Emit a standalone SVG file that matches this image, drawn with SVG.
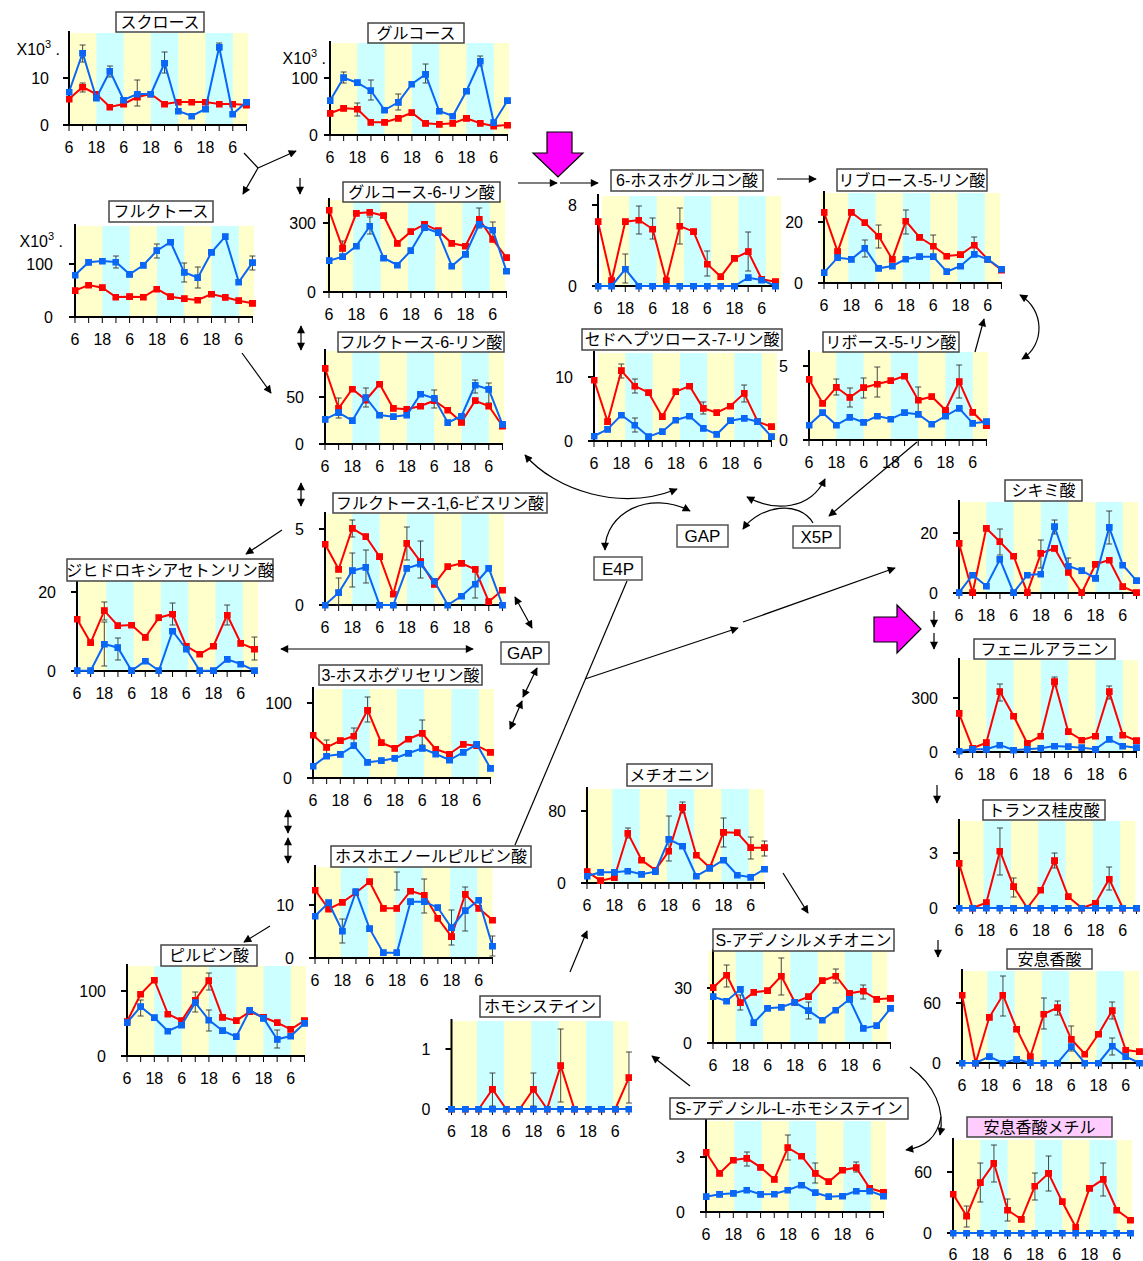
<svg xmlns="http://www.w3.org/2000/svg" xmlns:xlink="http://www.w3.org/1999/xlink" width="1143" height="1261" viewBox="0 0 1143 1261">
<style>
text{font-family:"Liberation Sans","Noto Sans CJK JP",sans-serif;font-size:16px;fill:#000}
.t{text-anchor:middle}
.yl{text-anchor:end}
.tb{fill:#fff;stroke:#444;stroke-width:1.5}
.tp{fill:#ffccff;stroke:#444;stroke-width:1.5}
.ax{fill:none;stroke:#000;stroke-width:2}
.xt{stroke:#000;stroke-width:6;stroke-dasharray:1 12.65}
.eb{fill:none;stroke:#333;stroke-width:0.9}
.r{fill:none;stroke:#f00;stroke-width:2;marker-start:url(#mr);marker-mid:url(#mr);marker-end:url(#mr)}
.b{fill:none;stroke:#0a66f5;stroke-width:2;marker-start:url(#mb);marker-mid:url(#mb);marker-end:url(#mb)}
.cn{fill:none;stroke:#000;stroke-width:1.2}
.ae{marker-end:url(#ah)}
.ad{marker-start:url(#ah);marker-end:url(#ah)}
.nb{fill:#fff;stroke:#555;stroke-width:1.5}
.mg{fill:#f0f;stroke:#000;stroke-width:1.2}
.nt{font-size:17px;text-anchor:middle}
</style>
<defs>
<marker id="mr" markerWidth="7" markerHeight="7" refX="3.5" refY="3.5" markerUnits="userSpaceOnUse"><rect width="7" height="7" fill="#f00"/></marker>
<marker id="mb" markerWidth="7" markerHeight="7" refX="3.5" refY="3.5" markerUnits="userSpaceOnUse"><rect width="7" height="7" fill="#0a66f5"/></marker>
<marker id="ah" viewBox="0 0 10 10" refX="9" refY="5" markerWidth="11" markerHeight="8" markerUnits="userSpaceOnUse" orient="auto-start-reverse"><path d="M0,0L10,5L0,10z"/></marker>
<g id="bg"><rect width="179" height="1" fill="#ffffcc"/><rect x="27.3" width="27.3" height="1" fill="#ccffff"/><rect x="81.9" width="27.3" height="1" fill="#ccffff"/><rect x="136.5" width="27.3" height="1" fill="#ccffff"/></g>
<line id="xt" class="xt" x1="-0.5" y1="3" x2="178" y2="3"/>
<g id="xl" class="t"><text x="0">6</text><text x="27.3">18</text><text x="54.6">6</text><text x="81.9">18</text><text x="109.2">6</text><text x="136.5">18</text><text x="163.8">6</text></g>
</defs>
<rect width="1143" height="1261" fill="#fff"/>

<g id="sucrose" transform="translate(69,0)">
<use href="#bg" transform="translate(0,33) scale(1,92)"/>
<path class="ax" d="M0,31V125M-6,125H178M-6,78H0"/>
<use href="#xt" y="125"/><use href="#xl" y="153"/>
<text class="yl" x="-20" y="84">10</text><text class="yl" x="-20" y="131">0</text>
<text class="yl" x="-9" y="55">X10<tspan dy="-7" font-size="11">3</tspan><tspan dy="7"> .</tspan></text>
<path class="eb" d="M13.65,45V62M10.65,45h6M10.65,62h6M40.95,66V77M37.95,66h6M37.95,77h6M95.55,52V73M92.55,52h6M92.55,73h6M150.15,43V50M147.15,43h6M147.15,50h6M68.25,80V106M65.25,80h6M65.25,106h6M13.65,83V92M10.65,83h6M10.65,92h6"/>
<polyline class="r" points="0,99 13.65,87 27.3,94 40.95,107 54.6,104 68.25,97 81.9,94 95.55,104 109.2,102 122.85,102 136.5,102 150.15,104 163.8,104 177.45,105"/>
<polyline class="b" points="0,92 13.65,53 27.3,98 40.95,71 54.6,100 68.25,94 81.9,94 95.55,63 109.2,111 122.85,116 136.5,109 150.15,47 163.8,114 177.45,102"/>
<rect class="tb" x="47" y="12" width="88" height="20"/><text class="t" x="91" y="28">スクロース</text>
</g>

<g id="glucose" transform="translate(330,0)">
<use href="#bg" transform="translate(0,43) scale(1,92)"/>
<path class="ax" d="M0,41V135M-6,135H178M-6,78H0"/>
<use href="#xt" y="135"/><use href="#xl" y="163"/>
<text class="yl" x="-12" y="84">100</text><text class="yl" x="-12" y="141">0</text>
<text class="yl" x="-4" y="64">X10<tspan dy="-7" font-size="11">3</tspan><tspan dy="7"> .</tspan></text>
<path class="eb" d="M13.65,72V83M10.65,72h6M10.65,83h6M40.95,80V100M37.95,80h6M37.95,100h6M95.55,64V83M92.55,64h6M92.55,83h6M150.15,56V66M147.15,56h6M147.15,66h6M68.25,94V110M65.25,94h6M65.25,110h6M27.3,103V116M24.3,103h6M24.3,116h6"/>
<polyline class="r" points="0,113.3 13.65,108.3 27.3,109 40.95,122.3 54.6,122.3 68.25,118.3 81.9,112.7 95.55,123.3 109.2,124.3 122.85,123.3 136.5,118.3 150.15,123.3 163.8,126 177.45,125"/>
<polyline class="b" points="0,100.7 13.65,77.7 27.3,82.7 40.95,90.7 54.6,110 68.25,102.3 81.9,84 95.55,74.3 109.2,111 122.85,116 136.5,91 150.15,61 163.8,122.7 177.45,100.7"/>
<rect class="tb" x="38" y="23" width="96" height="20"/><text class="t" x="86" y="39">グルコース</text>
</g>

<g id="g6p" transform="translate(329,0)">
<use href="#bg" transform="translate(-3,200) scale(1,92)"/>
<path class="ax" d="M0,198V292M-6,292H178M-6,223H0"/>
<use href="#xt" y="292"/><use href="#xl" y="320"/>
<text class="yl" x="-13" y="229">300</text><text class="yl" x="-13" y="298">0</text>
<path class="eb" d="M40.95,217V234M37.95,217h6M37.95,234h6M150.15,208V228M147.15,208h6M147.15,228h6M163.8,222V238M160.8,222h6M160.8,238h6M13.65,241V256M10.65,241h6M10.65,256h6"/>
<polyline class="r" points="0,210 13.65,248.3 27.3,213.3 40.95,212.3 54.6,215.7 68.25,243.3 81.9,231.7 95.55,224.3 109.2,230.7 122.85,243.3 136.5,246 150.15,219 163.8,239.3 177.45,257.7"/>
<polyline class="b" points="0,260.7 13.65,256.7 27.3,246 40.95,226 54.6,258 68.25,265 81.9,250.7 95.55,227.7 109.2,232.7 122.85,266 136.5,254.3 150.15,224.3 163.8,230 177.45,271"/>
<rect class="tb" x="14" y="182" width="157" height="20"/><text class="t" x="92.5" y="198">グルコース-6-リン酸</text>
</g>

<g id="fructose" transform="translate(75,0)">
<use href="#bg" transform="translate(0,226) scale(1,91)"/>
<path class="ax" d="M0,224V317M-6,317H178M-6,264H0"/>
<use href="#xt" y="317"/><use href="#xl" y="345"/>
<text class="yl" x="-22" y="270">100</text><text class="yl" x="-22" y="323">0</text>
<text class="yl" x="-12" y="247">X10<tspan dy="-7" font-size="11">3</tspan><tspan dy="7"> .</tspan></text>
<path class="eb" d="M109.2,263V282M106.2,263h6M106.2,282h6M122.85,267V288M119.85,267h6M119.85,288h6M81.9,244V258M78.9,244h6M78.9,258h6M40.95,256V268M37.95,256h6M37.95,268h6M177.45,256V270M174.45,256h6M174.45,270h6"/>
<polyline class="r" points="0,290.7 13.65,285 27.3,287.7 40.95,297 54.6,296.7 68.25,297 81.9,289 95.55,296.7 109.2,298.7 122.85,300 136.5,294 150.15,297.3 163.8,300.7 177.45,303.3"/>
<polyline class="b" points="0,275 13.65,262.3 27.3,261 40.95,262 54.6,274.3 68.25,265.3 81.9,250.7 95.55,242 109.2,272.3 122.85,277.7 136.5,252.3 150.15,236.7 163.8,282 177.45,262.7"/>
<rect class="tb" x="34" y="201" width="104" height="21"/><text class="t" x="86" y="217">フルクトース</text>
</g>

<g id="f6p" transform="translate(325,0)">
<use href="#bg" transform="translate(0,351) scale(1,93)"/>
<path class="ax" d="M0,349V444M-6,444H178M-6,397H0"/>
<use href="#xt" y="444"/><use href="#xl" y="472"/>
<text class="yl" x="-21" y="403">50</text><text class="yl" x="-21" y="450">0</text>
<path class="eb" d="M40.95,388V407M37.95,388h6M37.95,407h6M150.15,380V393M147.15,380h6M147.15,393h6M163.8,383V403M160.8,383h6M160.8,403h6M13.65,398V418M10.65,398h6M10.65,418h6M109.2,390V408M106.2,390h6M106.2,408h6"/>
<polyline class="r" points="0,368.3 13.65,408.3 27.3,389 40.95,400 54.6,384 68.25,408.3 81.9,409.3 95.55,406 109.2,400.7 122.85,410 136.5,422.3 150.15,400.7 163.8,406 177.45,426"/>
<polyline class="b" points="0,419.3 13.65,412.7 27.3,420.7 40.95,397.7 54.6,415 68.25,416.7 81.9,415 95.55,394 109.2,398.3 122.85,422.7 136.5,416 150.15,385 163.8,389.3 177.45,424.3"/>
<rect class="tb" x="13" y="332" width="166" height="20"/><text class="t" x="96" y="348">フルクトース-6-リン酸</text>
</g>

<g id="f16bp" transform="translate(325,0)">
<use href="#bg" transform="translate(0,514) scale(1,91)"/>
<path class="ax" d="M0,512V605M-6,605H178M-6,529H0"/>
<use href="#xt" y="605"/><use href="#xl" y="633"/>
<text class="yl" x="-21" y="535">5</text><text class="yl" x="-21" y="611">0</text>
<path class="eb" d="M27.3,553V587M24.3,553h6M24.3,587h6M40.95,550V583M37.95,550h6M37.95,583h6M81.9,527V560M78.9,527h6M78.9,560h6M95.55,541V578M92.55,541h6M92.55,578h6M27.3,520V537M24.3,520h6M24.3,537h6M13.65,578V605M10.65,578h6M10.65,605h6M150.15,570V598M147.15,570h6M147.15,598h6"/>
<polyline class="r" points="0,544 13.65,569.3 27.3,528.3 40.95,536.7 54.6,556.7 68.25,594 81.9,543.3 95.55,561.7 109.2,584.3 122.85,566.7 136.5,563.3 150.15,569.3 163.8,601.7 177.45,590"/>
<polyline class="b" points="0,605 13.65,592.7 27.3,570.7 40.95,567.3 54.6,605 68.25,605 81.9,568.3 95.55,564 109.2,581 122.85,605 136.5,596 150.15,584 163.8,568.3 177.45,605"/>
<rect class="tb" x="8" y="493" width="214" height="20"/><text class="t" x="115" y="509">フルクトース-1,6-ビスリン酸</text>
</g>

<g id="pg6" transform="translate(598,0)">
<use href="#bg" transform="translate(4,196) scale(1,90)"/>
<path class="ax" d="M0,194V286M-6,286H178M-6,205H0"/>
<use href="#xt" y="286"/><use href="#xl" y="314"/>
<text class="yl" x="-21" y="211">8</text><text class="yl" x="-21" y="292">0</text>
<path class="eb" d="M40.95,206V234M37.95,206h6M37.95,234h6M81.9,208V244M78.9,208h6M78.9,244h6M150.15,232V271M147.15,232h6M147.15,271h6M27.3,254V283M24.3,254h6M24.3,283h6M109.2,251V276M106.2,251h6M106.2,276h6M54.6,218V239M51.6,218h6M51.6,239h6"/>
<polyline class="r" points="0,221.7 13.65,280.7 27.3,221.7 40.95,220 54.6,229 68.25,280.7 81.9,226 95.55,231.7 109.2,264 122.85,276.7 136.5,258.3 150.15,251.7 163.8,279.3 177.45,281.7"/>
<polyline class="b" points="0,286 13.65,286 27.3,269 40.95,286 54.6,286 68.25,286 81.9,286 95.55,286 109.2,286 122.85,286 136.5,286 150.15,277.7 163.8,280 177.45,286"/>
<rect class="tb" x="13" y="170" width="152" height="21"/><text class="t" x="89" y="186">6-ホスホグルコン酸</text>
</g>

<g id="ru5p" transform="translate(824,0)">
<use href="#bg" transform="translate(-3,193) scale(1,90)"/>
<path class="ax" d="M0,191V283M-6,283H178M-6,222H0"/>
<use href="#xt" y="283"/><use href="#xl" y="311"/>
<text class="yl" x="-21" y="228">20</text><text class="yl" x="-21" y="289">0</text>
<path class="eb" d="M81.9,210V234M78.9,210h6M78.9,234h6M54.6,225V248M51.6,225h6M51.6,248h6M40.95,240V257M37.95,240h6M37.95,257h6M109.2,235V258M106.2,235h6M106.2,258h6M150.15,237V253M147.15,237h6M147.15,253h6"/>
<polyline class="r" points="0,212.3 13.65,251.7 27.3,212.3 40.95,222.7 54.6,236 68.25,259.3 81.9,221 95.55,237.3 109.2,246 122.85,256 136.5,254.7 150.15,245 163.8,259.3 177.45,270"/>
<polyline class="b" points="0,272.7 13.65,257.7 27.3,259.3 40.95,248.3 54.6,268.3 68.25,266 81.9,259 95.55,256.7 109.2,256.7 122.85,271.7 136.5,266 150.15,254.3 163.8,259.3 177.45,269"/>
<rect class="tb" x="13" y="169" width="150" height="22"/><text class="t" x="88" y="186">リブロース-5-リン酸</text>
</g>

<g id="s7p" transform="translate(594,0)">
<use href="#bg" transform="translate(4,353) scale(1,88)"/>
<path class="ax" d="M0,351V441M-6,441H178M-6,377H0"/>
<use href="#xt" y="441"/><use href="#xl" y="469"/>
<text class="yl" x="-21" y="383">10</text><text class="yl" x="-21" y="447">0</text>
<path class="eb" d="M27.3,364V378M24.3,364h6M24.3,378h6M40.95,379V393M37.95,379h6M37.95,393h6M150.15,385V402M147.15,385h6M147.15,402h6M40.95,418V432M37.95,418h6M37.95,432h6M109.2,402V414M106.2,402h6M106.2,414h6"/>
<polyline class="r" points="0,380 13.65,421.7 27.3,370.7 40.95,386 54.6,392.7 68.25,416.7 81.9,391.7 95.55,386 109.2,408.3 122.85,412.7 136.5,406 150.15,393.3 163.8,421.7 177.45,426.7"/>
<polyline class="b" points="0,436 13.65,429.3 27.3,415 40.95,425 54.6,436.7 68.25,431.7 81.9,420 95.55,416 109.2,428.3 122.85,434.3 136.5,420.7 150.15,418.3 163.8,421.7 177.45,436.7"/>
<rect class="tb" x="-12" y="329" width="200" height="21"/><text class="t" x="88" y="345">セドヘプツロース-7-リン酸</text>
</g>

<g id="r5p" transform="translate(809,0)">
<use href="#bg" transform="translate(0,352) scale(1,88)"/>
<path class="ax" d="M0,350V440M-6,440H178M-6,366H0"/>
<use href="#xt" y="440"/><use href="#xl" y="468"/>
<text class="yl" x="-21" y="372">5</text><text class="yl" x="-21" y="446">0</text>
<path class="eb" d="M27.3,379V395M24.3,379h6M24.3,395h6M68.25,367V397M65.25,367h6M65.25,397h6M150.15,365V398M147.15,365h6M147.15,398h6M109.2,387V414M106.2,387h6M106.2,414h6M40.95,388V407M37.95,388h6M37.95,407h6M54.6,378V398M51.6,378h6M51.6,398h6"/>
<polyline class="r" points="0,379.3 13.65,403.3 27.3,387.3 40.95,397.3 54.6,387.7 68.25,384 81.9,380.7 95.55,376 109.2,400 122.85,396.7 136.5,410 150.15,381.7 163.8,412.3 177.45,425.7"/>
<polyline class="b" points="0,425 13.65,412.7 27.3,425 40.95,417.3 54.6,422.3 68.25,416 81.9,419 95.55,412.7 109.2,414.3 122.85,424 136.5,416 150.15,408.3 163.8,423.3 177.45,421.7"/>
<rect class="tb" x="14" y="332" width="136" height="20"/><text class="t" x="82" y="348">リボース-5-リン酸</text>
</g>

<g id="shikimate" transform="translate(959,0)">
<use href="#bg" transform="translate(0,502) scale(1,91)"/>
<path class="ax" d="M0,500V593M-6,593H178M-6,533H0"/>
<use href="#xt" y="593"/><use href="#xl" y="621"/>
<text class="yl" x="-21" y="539">20</text><text class="yl" x="-21" y="599">0</text>
<path class="eb" d="M40.95,529V555M37.95,529h6M37.95,555h6M150.15,511V544M147.15,511h6M147.15,544h6M95.55,520V534M92.55,520h6M92.55,534h6M81.9,540V568M78.9,540h6M78.9,568h6M109.2,558V574M106.2,558h6M106.2,574h6"/>
<polyline class="r" points="0,543.3 13.65,592.7 27.3,528.3 40.95,541.7 54.6,556 68.25,592.7 81.9,553.3 95.55,548.3 109.2,572.3 122.85,592.7 136.5,564.3 150.15,560 163.8,586.7 177.45,592.7"/>
<polyline class="b" points="0,592.7 13.65,575 27.3,586 40.95,559.3 54.6,592.7 68.25,575 81.9,574 95.55,526.7 109.2,566 122.85,570.7 136.5,578.3 150.15,527.3 163.8,565 177.45,580.7"/>
<rect class="tb" x="46" y="480" width="77" height="21"/><text class="t" x="84.5" y="496">シキミ酸</text>
</g>

<g id="phe" transform="translate(959,0)">
<use href="#bg" transform="translate(0,660) scale(1,92)"/>
<path class="ax" d="M0,658V752M-6,752H178M-6,698H0"/>
<use href="#xt" y="752"/><use href="#xl" y="780"/>
<text class="yl" x="-21" y="704">300</text><text class="yl" x="-21" y="758">0</text>
<path class="eb" d="M40.95,684V701M37.95,684h6M37.95,701h6M95.55,677V686M92.55,677h6M92.55,686h6M150.15,686V699M147.15,686h6M147.15,699h6"/>
<polyline class="r" points="0,713.3 13.65,748.3 27.3,742.7 40.95,691.7 54.6,716 68.25,743.3 81.9,736 95.55,681.7 109.2,731.7 122.85,740 136.5,736 150.15,691.7 163.8,735 177.45,740.7"/>
<polyline class="b" points="0,751 13.65,749.3 27.3,749.3 40.95,745 54.6,750 68.25,749.3 81.9,748.3 95.55,746 109.2,746.7 122.85,747.7 136.5,749.3 150.15,739.3 163.8,746 177.45,747.7"/>
<rect class="tb" x="15" y="639" width="141" height="20"/><text class="t" x="85.5" y="655">フェニルアラニン</text>
</g>

<g id="cinnamic" transform="translate(959,0)">
<use href="#bg" transform="translate(-2.6,821) scale(1,87)"/>
<path class="ax" d="M0,819V908M-6,908H178M-6,853H0"/>
<use href="#xt" y="908"/><use href="#xl" y="936"/>
<text class="yl" x="-21" y="859">3</text><text class="yl" x="-21" y="914">0</text>
<path class="eb" d="M40.95,828V875M37.95,828h6M37.95,875h6M95.55,853V868M92.55,853h6M92.55,868h6M150.15,867V890M147.15,867h6M147.15,890h6M54.6,878V897M51.6,878h6M51.6,897h6"/>
<polyline class="r" points="0,863.3 13.65,908 27.3,902.7 40.95,851 54.6,886.7 68.25,908 81.9,890 95.55,860.7 109.2,896.7 122.85,908 136.5,903.3 150.15,879 163.8,908 177.45,908"/>
<polyline class="b" points="0,908 13.65,908 27.3,908 40.95,908 54.6,908 68.25,908 81.9,908 95.55,908 109.2,908 122.85,908 136.5,908 150.15,908 163.8,908 177.45,908"/>
<rect class="tb" x="24" y="800" width="122" height="20"/><text class="t" x="85" y="816">トランス桂皮酸</text>
</g>

<g id="benzoic" transform="translate(962,0)">
<use href="#bg" transform="translate(-2,971) scale(1,92)"/>
<path class="ax" d="M0,969V1063M-6,1063H178M-6,1003H0"/>
<use href="#xt" y="1063"/><use href="#xl" y="1091"/>
<text class="yl" x="-21" y="1009">60</text><text class="yl" x="-21" y="1069">0</text>
<path class="eb" d="M40.95,976V1016M37.95,976h6M37.95,1016h6M81.9,998V1029M78.9,998h6M78.9,1029h6M109.2,1026V1051M106.2,1026h6M106.2,1051h6M150.15,1002V1019M147.15,1002h6M147.15,1019h6M95.55,1001V1015M92.55,1001h6M92.55,1015h6M150.15,1038V1055M147.15,1038h6M147.15,1055h6"/>
<polyline class="r" points="0,995 13.65,1063 27.3,1017.3 40.95,995 54.6,1029 68.25,1056.7 81.9,1014 95.55,1007.7 109.2,1039.3 122.85,1054 136.5,1034 150.15,1010.7 163.8,1050 177.45,1051.7"/>
<polyline class="b" points="0,1063 13.65,1063 27.3,1056.7 40.95,1063 54.6,1059.3 68.25,1062.7 81.9,1063 95.55,1063 109.2,1046.7 122.85,1063 136.5,1063 150.15,1046 163.8,1056.7 177.45,1063"/>
<rect class="tb" x="45" y="949" width="85" height="20"/><text class="t" x="87.5" y="965">安息香酸</text>
</g>

<g id="methylbenzoate" transform="translate(953,0)">
<use href="#bg" transform="translate(0,1140) scale(1,93)"/>
<path class="ax" d="M0,1138V1233M-6,1233H178M-6,1172H0"/>
<use href="#xt" y="1233"/><use href="#xl" y="1260"/>
<text class="yl" x="-21" y="1178">60</text><text class="yl" x="-21" y="1239">0</text>
<path class="eb" d="M40.95,1145V1182M37.95,1145h6M37.95,1182h6M27.3,1163V1202M24.3,1163h6M24.3,1202h6M95.55,1156V1191M92.55,1156h6M92.55,1191h6M150.15,1163V1196M147.15,1163h6M147.15,1196h6M81.9,1173V1200M78.9,1173h6M78.9,1200h6M13.65,1206V1227M10.65,1206h6M10.65,1227h6M54.6,1199V1221M51.6,1199h6M51.6,1221h6"/>
<polyline class="r" points="0,1194 13.65,1216 27.3,1182.7 40.95,1163.3 54.6,1210 68.25,1219.3 81.9,1186 95.55,1173.3 109.2,1201.7 122.85,1227.3 136.5,1188.3 150.15,1179.3 163.8,1210 177.45,1220"/>
<polyline class="b" points="0,1233 13.65,1233 27.3,1233 40.95,1233 54.6,1233 68.25,1233 81.9,1233 95.55,1233 109.2,1233 122.85,1233 136.5,1233 150.15,1233 163.8,1233 177.45,1233"/>
<rect class="tp" x="14" y="1117" width="145" height="20"/><text class="t" x="86.5" y="1133">安息香酸メチル</text>
</g>

<g id="dhap" transform="translate(77,0)">
<use href="#bg" transform="translate(2,581) scale(1,90)"/>
<path class="ax" d="M0,579V671M-6,671H178M-6,592H0"/>
<use href="#xt" y="671"/><use href="#xl" y="699"/>
<text class="yl" x="-21" y="598">20</text><text class="yl" x="-21" y="677">0</text>
<path class="eb" d="M27.3,622V666M24.3,622h6M24.3,666h6M95.55,603V625M92.55,603h6M92.55,625h6M150.15,605V625M147.15,605h6M147.15,625h6M40.95,638V660M37.95,638h6M37.95,660h6M177.45,637V660M174.45,637h6M174.45,660h6M27.3,602V620M24.3,602h6M24.3,620h6"/>
<polyline class="r" points="0,619 13.65,642.7 27.3,610.7 40.95,625.7 54.6,625 68.25,637.3 81.9,617.7 95.55,614 109.2,646 122.85,654 136.5,646 150.15,615 163.8,643.3 177.45,649"/>
<polyline class="b" points="0,670.7 13.65,670.7 27.3,644 40.95,647.7 54.6,670.7 68.25,661 81.9,670.7 95.55,631 109.2,649 122.85,670.7 136.5,670.7 150.15,659.3 163.8,664 177.45,670.7"/>
<rect class="tb" x="-10" y="559" width="206" height="22"/><text class="t" x="93" y="576">ジヒドロキシアセトンリン酸</text>
</g>

<g id="pga3" transform="translate(313,0)">
<use href="#bg" transform="translate(2,689) scale(1,89)"/>
<path class="ax" d="M0,687V778M-6,778H178M-6,703H0"/>
<use href="#xt" y="778"/><use href="#xl" y="806"/>
<text class="yl" x="-21" y="709">100</text><text class="yl" x="-21" y="784">0</text>
<path class="eb" d="M54.6,697V722M51.6,697h6M51.6,722h6M109.2,720V745M106.2,720h6M106.2,745h6M40.95,728V745M37.95,728h6M37.95,745h6M13.65,740V755M10.65,740h6M10.65,755h6"/>
<polyline class="r" points="0,735 13.65,747.3 27.3,740.7 40.95,736 54.6,710 68.25,742.7 81.9,748.3 95.55,739 109.2,733.3 122.85,749.3 136.5,754 150.15,744.3 163.8,745.7 177.45,752.3"/>
<polyline class="b" points="0,766 13.65,756 27.3,754.3 40.95,745.7 54.6,762.3 68.25,760.7 81.9,758.3 95.55,753.3 109.2,748.3 122.85,754 136.5,760 150.15,752.3 163.8,744.3 177.45,768.3"/>
<rect class="tb" x="6" y="665" width="163" height="20"/><text class="t" x="87.5" y="681">3-ホスホグリセリン酸</text>
</g>

<g id="pep" transform="translate(315,0)">
<use href="#bg" transform="translate(-1.5,867) scale(1,91)"/>
<path class="ax" d="M0,865V958M-6,958H178M-6,905H0"/>
<use href="#xt" y="958"/><use href="#xl" y="986"/>
<text class="yl" x="-21" y="911">10</text><text class="yl" x="-21" y="964">0</text>
<path class="eb" d="M109.2,879V913M106.2,879h6M106.2,913h6M150.15,887V931M147.15,887h6M147.15,931h6M27.3,919V943M24.3,919h6M24.3,943h6M81.9,872V890M78.9,872h6M78.9,890h6M177.45,936V956M174.45,936h6M174.45,956h6M136.5,910V945M133.5,910h6M133.5,945h6"/>
<polyline class="r" points="0,890 13.65,909 27.3,902.3 40.95,892.7 54.6,881.7 68.25,908.3 81.9,908.3 95.55,891 109.2,895 122.85,918.3 136.5,936.7 150.15,894.3 163.8,908.3 177.45,920"/>
<polyline class="b" points="0,916 13.65,902.7 27.3,931 40.95,891.7 54.6,928.7 68.25,952.7 81.9,952.7 95.55,901.7 109.2,901.7 122.85,907.7 136.5,927.7 150.15,910.7 163.8,900 177.45,946"/>
<rect class="tb" x="16" y="846" width="200" height="21"/><text class="t" x="116" y="862">ホスホエノールピルビン酸</text>
</g>

<g id="pyruvate" transform="translate(127,0)">
<use href="#bg" transform="translate(0,966) scale(1,90)"/>
<path class="ax" d="M0,964V1056M-6,1056H178M-6,991H0"/>
<use href="#xt" y="1056"/><use href="#xl" y="1084"/>
<text class="yl" x="-21" y="997">100</text><text class="yl" x="-21" y="1062">0</text>
<path class="eb" d="M13.65,1000V1016M10.65,1000h6M10.65,1016h6M81.9,973V990M78.9,973h6M78.9,990h6M68.25,992V1012M65.25,992h6M65.25,1012h6M150.15,1030V1048M147.15,1030h6M147.15,1048h6M81.9,1010V1031M78.9,1010h6M78.9,1031h6"/>
<polyline class="r" points="0,1021.7 13.65,994 27.3,980 40.95,1014 54.6,1020.7 68.25,1000 81.9,980.7 95.55,1017.3 109.2,1020.7 122.85,1011.7 136.5,1017.3 150.15,1022.7 163.8,1029.3 177.45,1020.7"/>
<polyline class="b" points="0,1022.7 13.65,1006.7 27.3,1017.7 40.95,1031 54.6,1025 68.25,1002.7 81.9,1020 95.55,1030.7 109.2,1036.7 122.85,1010 136.5,1018.3 150.15,1039.3 163.8,1036 177.45,1023.3"/>
<rect class="tb" x="34" y="945" width="96" height="21"/><text class="t" x="82" y="961">ピルビン酸</text>
</g>

<g id="homocysteine" transform="translate(451.5,0)">
<use href="#bg" transform="translate(-2,1021) scale(1,88)"/>
<path class="ax" d="M0,1019V1109M-6,1109H178M-6,1049H0"/>
<use href="#xt" y="1109"/><use href="#xl" y="1137"/>
<text class="yl" x="-21" y="1055">1</text><text class="yl" x="-21" y="1115">0</text>
<path class="eb" d="M40.95,1073V1106M37.95,1073h6M37.95,1106h6M81.9,1073V1106M78.9,1073h6M78.9,1106h6M109.2,1029V1102M106.2,1029h6M106.2,1102h6M177.45,1052V1103M174.45,1052h6M174.45,1103h6"/>
<polyline class="r" points="0,1109 13.65,1109 27.3,1109 40.95,1089.3 54.6,1109 68.25,1109 81.9,1089.3 95.55,1109 109.2,1065.7 122.85,1109 136.5,1109 150.15,1109 163.8,1109 177.45,1077.7"/>
<polyline class="b" points="0,1109 13.65,1109 27.3,1109 40.95,1109 54.6,1109 68.25,1109 81.9,1109 95.55,1109 109.2,1109 122.85,1109 136.5,1109 150.15,1109 163.8,1109 177.45,1109"/>
<rect class="tb" x="28.5" y="996" width="120" height="21"/><text class="t" x="88.5" y="1012">ホモシステイン</text>
</g>

<g id="methionine" transform="translate(587,0)">
<use href="#bg" transform="translate(-2,789) scale(1,94)"/>
<path class="ax" d="M0,787V883M-6,883H178M-6,811H0"/>
<use href="#xt" y="883"/><use href="#xl" y="911"/>
<text class="yl" x="-21" y="817">80</text><text class="yl" x="-21" y="889">0</text>
<path class="eb" d="M81.9,816V861M78.9,816h6M78.9,861h6M136.5,818V847M133.5,818h6M133.5,847h6M163.8,837V859M160.8,837h6M160.8,859h6M177.45,841V856M174.45,841h6M174.45,856h6M40.95,828V838M37.95,828h6M37.95,838h6M95.55,802V813M92.55,802h6M92.55,813h6"/>
<polyline class="r" points="0,871.7 13.65,880.7 27.3,877.7 40.95,833.3 54.6,860 68.25,870 81.9,851 95.55,807.3 109.2,855 122.85,867.7 136.5,832.3 150.15,832.7 163.8,847.7 177.45,847.7"/>
<polyline class="b" points="0,876 13.65,872.3 27.3,872.3 40.95,871 54.6,874.3 68.25,871.7 81.9,839.3 95.55,846 109.2,876 122.85,868.3 136.5,860 150.15,875 163.8,877.3 177.45,869"/>
<rect class="tb" x="40" y="764" width="85" height="22"/><text class="t" x="82.5" y="781">メチオニン</text>
</g>

<g id="sam" transform="translate(713,0)">
<use href="#bg" transform="translate(-4.6,951) scale(1,92)"/>
<path class="ax" d="M0,949V1043M-6,1043H178M-6,988H0"/>
<use href="#xt" y="1043"/><use href="#xl" y="1071"/>
<text class="yl" x="-21" y="994">30</text><text class="yl" x="-21" y="1049">0</text>
<path class="eb" d="M68.25,958V995M65.25,958h6M65.25,995h6M13.65,965V987M10.65,965h6M10.65,987h6M95.55,1002V1019M92.55,1002h6M92.55,1019h6M122.85,969V983M119.85,969h6M119.85,983h6M150.15,985V999M147.15,985h6M147.15,999h6M27.3,995V1010M24.3,995h6M24.3,1010h6"/>
<polyline class="r" points="0,987.7 13.65,975 27.3,1002.7 40.95,992.3 54.6,990.7 68.25,976 81.9,1002.3 95.55,996.7 109.2,980.7 122.85,976 136.5,993.3 150.15,991 163.8,999.3 177.45,998.3"/>
<polyline class="b" points="0,996.7 13.65,1001 27.3,989.3 40.95,1022.7 54.6,1008.3 68.25,1007.3 81.9,1002.3 95.55,1010.7 109.2,1020 122.85,1010 136.5,999.3 150.15,1028.3 163.8,1025.7 177.45,1008.3"/>
<rect class="tb" x="0" y="929" width="181" height="22"/><text class="t" x="90.5" y="946">S-アデノシルメチオニン</text>
</g>

<g id="sah" transform="translate(706,0)">
<use href="#bg" transform="translate(1,1121) scale(1,91)"/>
<path class="ax" d="M0,1119V1212M-6,1212H178M-6,1157H0"/>
<use href="#xt" y="1212"/><use href="#xl" y="1240"/>
<text class="yl" x="-21" y="1163">3</text><text class="yl" x="-21" y="1218">0</text>
<path class="eb" d="M81.9,1135V1160M78.9,1135h6M78.9,1160h6M109.2,1163V1183M106.2,1163h6M106.2,1183h6M40.95,1152V1166M37.95,1152h6M37.95,1166h6M150.15,1162V1172M147.15,1162h6M147.15,1172h6"/>
<polyline class="r" points="0,1152.3 13.65,1173.3 27.3,1160 40.95,1158.3 54.6,1167.3 68.25,1179.3 81.9,1147.7 95.55,1156 109.2,1173.3 122.85,1181.7 136.5,1170 150.15,1167.7 163.8,1188.3 177.45,1192.3"/>
<polyline class="b" points="0,1196.7 13.65,1194.3 27.3,1193.3 40.95,1190 54.6,1194.3 68.25,1194 81.9,1190 95.55,1185 109.2,1192.7 122.85,1196.7 136.5,1196 150.15,1191 163.8,1191 177.45,1196"/>
<rect class="tb" x="-36" y="1098" width="238" height="21"/><text class="t" x="83" y="1114">S-アデノシル-L-ホモシステイン</text>
</g>

<g id="gap1"><rect class="nb" x="677" y="525" width="51" height="22"/><text class="nt" x="702.5" y="542">GAP</text></g>
<g id="x5p"><rect class="nb" x="793" y="526" width="47" height="22"/><text class="nt" x="816.5" y="543">X5P</text></g>
<g id="e4p"><rect class="nb" x="594" y="557" width="48" height="23"/><text class="nt" x="618" y="575">E4P</text></g>
<g id="gap2"><rect class="nb" x="501" y="642" width="48" height="22"/><text class="nt" x="525" y="659">GAP</text></g>

<g id="connectors">
<path class="cn" d="M244,153L258,168"/>
<path class="cn ae" d="M258,168L296,151"/>
<path class="cn ae" d="M258,168L243,194"/>
<path class="cn ae" d="M300,178V194"/>
<path class="cn ae" d="M518,183H557"/>
<path class="cn ae" d="M560,183H598"/>
<path class="cn ae" d="M777,179H816"/>
<path class="cn ad" d="M301,326V350"/>
<path class="cn ad" d="M301,483V506"/>
<path class="cn ae" d="M242,353L271,393"/>
<path class="cn ae" d="M282,530L246,554"/>
<path class="cn ad" d="M281,649H473"/>
<path class="cn ad" d="M515,597L532,628"/>
<path class="cn ad" d="M537,668L523,697"/>
<path class="cn ad" d="M522,701L510,729"/>
<path class="cn ad" d="M288,810V833"/>
<path class="cn ad" d="M288,838V863"/>
<path class="cn ae" d="M270,926L244,942"/>
<path class="cn ad" d="M525,455C555,490 620,512 677,489"/>
<path class="cn ad" d="M605,550C605,512 650,490 690,511"/>
<path class="cn ad" d="M747,497C775,512 810,510 825,479"/>
<path class="cn ae" d="M813,523C800,500 760,505 743,529"/>
<path class="cn ae" d="M917,442L829,516"/>
<path class="cn ae" d="M975,352L984,319"/>
<path class="cn ad" d="M1020,295C1045,310 1045,345 1022,359"/>
<path class="cn" d="M627,581L515,845"/>
<path class="cn ae" d="M585,679L738,628"/>
<path class="cn ae" d="M743,622L895,568"/>
<path class="cn ae" d="M934,611V627"/>
<path class="cn ae" d="M934,633V649"/>
<path class="cn ae" d="M937,785V803"/>
<path class="cn ae" d="M938,940V957"/>
<path class="cn ae" d="M910,1067C935,1085 945,1110 940,1135"/>
<path class="cn ae" d="M941,1117C937,1138 925,1147 906,1150"/>
<path class="cn ae" d="M783,873L808,913"/>
<path class="cn ae" d="M690,1086L652,1056"/>
<path class="cn ae" d="M570,972L587,931"/>
<polygon class="mg" points="547,132 572,132 572,153 583,153 558,177 533,153 547,153"/>
<polygon class="mg" points="874,617 897,617 897,605 921,629 897,653 897,642 874,642"/>
</g>
</svg>
